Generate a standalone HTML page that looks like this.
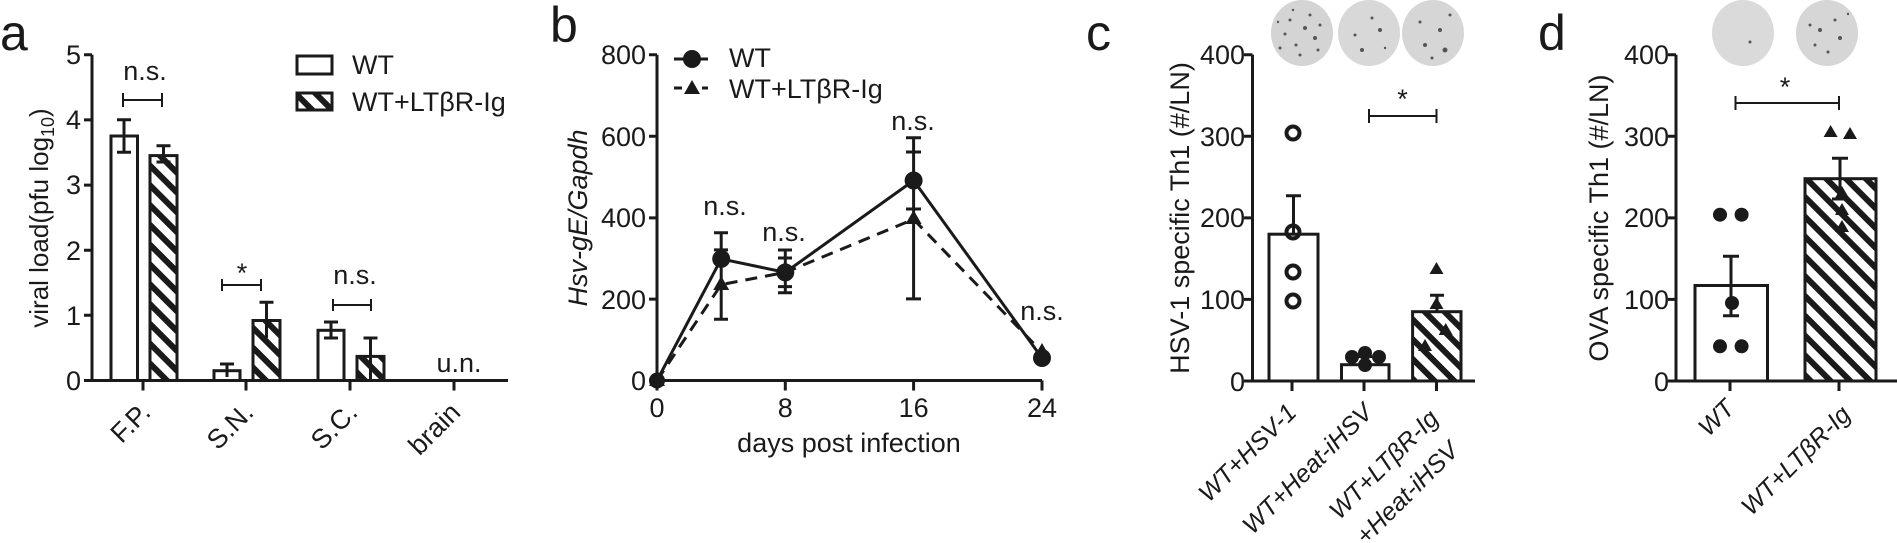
<!DOCTYPE html>
<html><head><meta charset="utf-8"><style>
html,body{margin:0;padding:0;background:#fff;}
svg{display:block;font-family:"Liberation Sans",sans-serif;}
</style></head><body>
<svg width="1897" height="543" viewBox="0 0 1897 543" xmlns="http://www.w3.org/2000/svg">
<defs>
<pattern id="h" patternUnits="userSpaceOnUse" width="14" height="14" patternTransform="rotate(-45)">
<rect width="14" height="14" fill="#fff"/><rect x="0" y="0" width="6" height="14" fill="#1a1a1a"/>
</pattern>
</defs>
<g fill="#1a1a1a" stroke="none">
<text x="0" y="50" font-size="50">a</text>
<text x="550" y="42" font-size="50">b</text>
<text x="1086" y="50" font-size="50">c</text>
<text x="1538" y="50" font-size="50">d</text>
</g>

<!-- Panel a -->
<g stroke="#1a1a1a" stroke-width="3" fill="none">
<path d="M92,54.7 V380.5 H508"/>
<path d="M84,54.7H92M84,119.9H92M84,185.1H92M84,250.3H92M84,315.3H92M84,380.5H92"/>
<path d="M143,380.5v10M246,380.5v10M350,380.5v10M454,380.5v10"/>
<rect x="111" y="136" width="26.5" height="244.5" fill="#fff"/>
<rect x="150" y="155.6" width="27" height="224.9" fill="url(#h)"/>
<rect x="214" y="370.7" width="26" height="9.8" fill="#fff"/>
<rect x="253" y="320.5" width="27" height="60" fill="url(#h)"/>
<rect x="318" y="330.3" width="26" height="50.2" fill="#fff"/>
<rect x="357" y="356.4" width="27" height="24.1" fill="url(#h)"/>
<path d="M124,152.3V119.7M117,152.3h14M117,119.7h14"/>
<path d="M163.5,162V145.8M156.5,162h14M156.5,145.8h14"/>
<path d="M227,377V364M220,364h14"/>
<path d="M266.5,338V302.3M259.5,302.3h14"/>
<path d="M331,338V322M324,338h14M324,322h14"/>
<path d="M370.5,380V338M363.5,338h14"/>
<rect x="297" y="56" width="35" height="18" fill="#fff"/>
<rect x="297" y="93" width="35" height="17" fill="url(#h)"/>
</g>
<g stroke="#1a1a1a" stroke-width="2" fill="none">
<path d="M123,93v14M123,100H162M162,93v14"/>
<path d="M222,279v12M222,285H261M261,279v12"/>
<path d="M333,299v12M333,305H371M371,299v12"/>
</g>
<g fill="#1a1a1a" font-size="27">
<g text-anchor="end"><text x="81" y="64">5</text><text x="81" y="129">4</text><text x="81" y="194">3</text><text x="81" y="260">2</text><text x="81" y="325">1</text><text x="81" y="390">0</text></g>
<text x="352" y="74">WT</text>
<text x="352" y="111">WT+LTβR-Ig</text>
<g text-anchor="middle"><text x="145" y="80">n.s.</text><text x="242" y="282">*</text><text x="355" y="284">n.s.</text><text x="459" y="372">u.n.</text></g>
<g text-anchor="end" font-size="27">
<text transform="translate(152,414) rotate(-45)">F.P.</text>
<text transform="translate(255,414) rotate(-45)">S.N.</text>
<text transform="translate(359,414) rotate(-45)">S.C.</text>
<text transform="translate(462,414) rotate(-45)">brain</text>
</g>
<text transform="translate(48,218) rotate(-90)" text-anchor="middle" font-size="26">viral load(pfu log<tspan font-size="18" dy="6">10</tspan><tspan dy="-6">)</tspan></text>
</g>

<!-- Panel b -->
<g stroke="#1a1a1a" stroke-width="3" fill="none">
<path d="M657,54.7V380.5H1042"/>
<path d="M649,54.7H657M649,136.3H657M649,217.9H657M649,299.1H657M649,380.5H657"/>
<path d="M657,380.5v10M785.3,380.5v10M913.6,380.5v10M1042,380.5v10"/>
<path d="M657,380.5L721.2,258.9L785.3,272.4L913.6,180.5L1042,358"/>
<path d="M657,380.5L721.2,284.6L785.3,272.4L913.6,219.3L1042,352" stroke-dasharray="12 8"/>
<path d="M721.2,232.8V319.3M714,232.8h14M714,249.9h14M714,319.3h14"/>
<path d="M785.3,250V292.8M778,250h14M778,258h14M778,286.6h14M778,292.8h14"/>
<path d="M913.6,137.7V298.9M906,137.7h15M906,152h15M906,209h15M906,298.9h15"/>
<path d="M674,59H708"/>
<path d="M674,88H708" stroke-dasharray="8 6"/>
</g>
<g fill="#1a1a1a">
<circle cx="657" cy="380.5" r="8"/><circle cx="721.2" cy="258.9" r="9"/><circle cx="785.3" cy="272.4" r="9"/><circle cx="913.6" cy="180.5" r="9"/><circle cx="1042" cy="358" r="9"/>
<path d="M721.2,276l8,14h-16z M913.6,210l8,14h-16z M1042,343l8,14h-16z M657,372l8,14h-16z"/>
<circle cx="692" cy="59" r="9"/>
<path d="M692,80l8,14h-16z"/>
<g font-size="27">
<g text-anchor="end"><text x="646" y="64">800</text><text x="646" y="146">600</text><text x="646" y="227">400</text><text x="646" y="309">200</text><text x="646" y="390">0</text></g>
<g text-anchor="middle"><text x="657" y="417">0</text><text x="785.3" y="417">8</text><text x="913.6" y="417">16</text><text x="1042" y="417">24</text>
<text x="849" y="452">days post infection</text>
<text x="725" y="215">n.s.</text><text x="784" y="241">n.s.</text><text x="913" y="130">n.s.</text><text x="1042" y="320">n.s.</text></g>
<text x="729" y="67">WT</text>
<text x="729" y="98">WT+LTβR-Ig</text>
<text transform="translate(587,218) rotate(-90)" text-anchor="middle" font-style="italic">Hsv-gE/Gapdh</text>
</g>
</g>

<!-- Dishes -->
<g>
<ellipse cx="1302" cy="33" rx="31" ry="33" fill="#d4d4d4"/>
<ellipse cx="1369" cy="33" rx="31" ry="33" fill="#d8d8d8"/>
<ellipse cx="1433" cy="33" rx="31" ry="33" fill="#d6d6d6"/>
<ellipse cx="1743" cy="33" rx="31" ry="33" fill="#dadada"/>
<ellipse cx="1827" cy="33" rx="31" ry="33" fill="#d6d6d6"/>
<g fill="#555">
<circle cx="1290" cy="20" r="1.5"/><circle cx="1305" cy="28" r="2"/><circle cx="1296" cy="45" r="1.5"/><circle cx="1315" cy="38" r="2"/><circle cx="1285" cy="34" r="1.5"/><circle cx="1310" cy="15" r="1.5"/><circle cx="1300" cy="55" r="1.5"/><circle cx="1320" cy="25" r="1.5"/><circle cx="1280" cy="48" r="1.5"/><circle cx="1293" cy="10" r="1.2"/><circle cx="1318" cy="50" r="1.5"/><circle cx="1278" cy="22" r="1.2"/>
<circle cx="1380" cy="30" r="2"/><circle cx="1362" cy="50" r="2"/><circle cx="1372" cy="18" r="1.5"/><circle cx="1355" cy="35" r="1.5"/><circle cx="1385" cy="48" r="1.2"/>
<circle cx="1440" cy="30" r="2"/><circle cx="1425" cy="45" r="2"/><circle cx="1445" cy="50" r="2.5"/><circle cx="1420" cy="22" r="1.5"/><circle cx="1450" cy="15" r="1.5"/><circle cx="1432" cy="58" r="1.5"/>
<circle cx="1750" cy="42" r="1.5"/>
<circle cx="1820" cy="30" r="2"/><circle cx="1835" cy="20" r="1.5"/><circle cx="1815" cy="45" r="1.5"/><circle cx="1840" cy="38" r="2"/><circle cx="1828" cy="52" r="1.5"/><circle cx="1810" cy="25" r="1.5"/><circle cx="1848" cy="14" r="1.2"/>
</g>
</g>

<!-- Panel c -->
<g stroke="#1a1a1a" stroke-width="3" fill="none">
<path d="M1252.5,54.7V381H1475"/>
<path d="M1244,54.7h8.5M1244,136.3h8.5M1244,217.9h8.5M1244,299.4h8.5M1244,381h8.5"/>
<path d="M1292,381v10M1364,381v10M1436.5,381v10"/>
<rect x="1269" y="234.2" width="49" height="146.8" fill="#fff"/>
<rect x="1341.5" y="364.7" width="47.5" height="16.3" fill="#fff"/>
<rect x="1412.6" y="311.7" width="48.4" height="69.3" fill="url(#h)"/>
<path d="M1293.5,234.2V195.8M1286,195.8h15"/>
<path d="M1365,364.7V356.5M1358,356.5h14"/>
<path d="M1437,311.7V295.3M1430,295.3h14"/>
<g stroke-width="4" fill="none"><circle cx="1293" cy="133" r="6.5"/><circle cx="1293" cy="232" r="6.5"/><circle cx="1293" cy="272" r="6.5"/><circle cx="1293" cy="301" r="6.5"/></g>
</g>
<g stroke="#1a1a1a" stroke-width="2"><path d="M1369,109v14M1369,116H1436.5M1436.5,109v14"/></g>
<g fill="#1a1a1a">
<circle cx="1352" cy="357" r="7"/><circle cx="1365" cy="353" r="7"/><circle cx="1379" cy="357" r="7"/><circle cx="1365" cy="365" r="7"/>
<path d="M1436.5,262l7,12h-14z M1436.5,297l7,12h-14z M1445.7,323l7,12h-14z M1425,339l7,12h-14z"/>
<g font-size="27">
<g text-anchor="end"><text x="1245" y="64">400</text><text x="1245" y="146">300</text><text x="1245" y="227">200</text><text x="1245" y="309">100</text><text x="1245" y="391">0</text></g>
<text x="1402.5" y="108" text-anchor="middle">*</text>
<text transform="translate(1189,218) rotate(-90)" text-anchor="middle">HSV-1 specific Th1 (#/LN)</text>
<g text-anchor="end" font-size="25" font-style="italic">
<text transform="translate(1298,414) rotate(-45)">WT+HSV-1</text>
<text transform="translate(1374,414) rotate(-45)">WT+Heat-iHSV</text>
<text transform="translate(1440,420) rotate(-45)">WT+LTβR-Ig</text>
<text transform="translate(1460,452) rotate(-45)">+Heat-iHSV</text>
</g>
</g>
</g>

<!-- Panel d -->
<g stroke="#1a1a1a" stroke-width="3" fill="none">
<path d="M1676,54.7V381H1897"/>
<path d="M1668,54.7h8M1668,136.3h8M1668,217.9h8M1668,299.4h8M1668,381h8"/>
<path d="M1730,381v10M1839,381v10"/>
<rect x="1695" y="285.5" width="72.5" height="95.5" fill="#fff"/>
<rect x="1805" y="178.7" width="71" height="202.3" fill="url(#h)"/>
<path d="M1731,256.2V315.7M1723,256.2h16M1723,315.7h16"/>
<path d="M1840,158.3V199M1832,158.3h16M1832,199h16"/>
</g>
<g stroke="#1a1a1a" stroke-width="2"><path d="M1735.5,96v14M1735.5,103H1839M1839,96v14"/></g>
<g fill="#1a1a1a">
<circle cx="1720" cy="214.7" r="7"/><circle cx="1741.6" cy="214.7" r="7"/><circle cx="1732" cy="303" r="7"/><circle cx="1720" cy="346.3" r="7"/><circle cx="1741.6" cy="346.3" r="7"/>
<path d="M1830.6,125l7,12h-14z M1850,127l7,12h-14z M1842,186l7,12h-14z M1842,203l7,12h-14z M1842,220l7,12h-14z"/>
<g font-size="27">
<g text-anchor="end"><text x="1669" y="64">400</text><text x="1669" y="146">300</text><text x="1669" y="227">200</text><text x="1669" y="309">100</text><text x="1669" y="391">0</text></g>
<text x="1785" y="96" text-anchor="middle">*</text>
<text transform="translate(1608,218) rotate(-90)" text-anchor="middle">OVA specific Th1 (#/LN)</text>
<g text-anchor="end" font-size="25" font-style="italic">
<text transform="translate(1736,410) rotate(-45)">WT</text>
<text transform="translate(1852,416) rotate(-45)">WT+LTβR-Ig</text>
</g>
</g>
</g>
</svg>
</body></html>
